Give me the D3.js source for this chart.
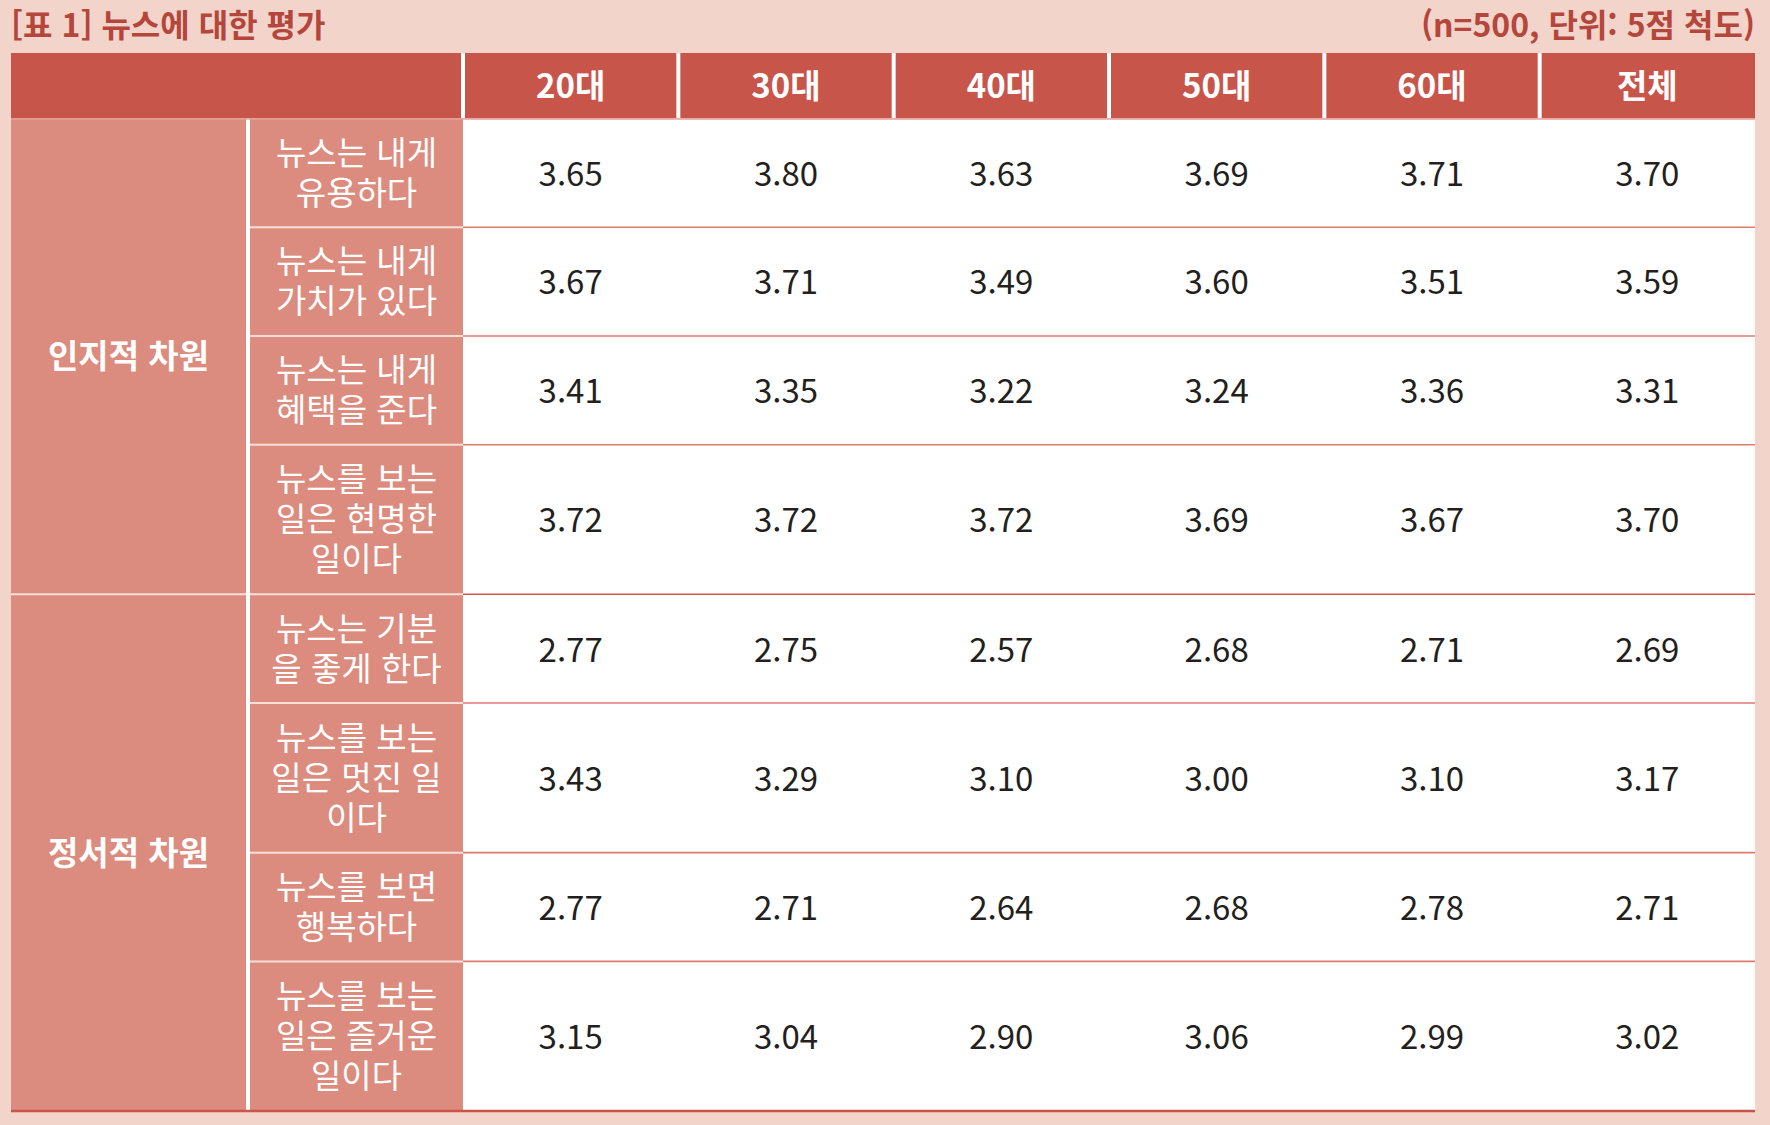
<!DOCTYPE html>
<html lang="ko">
<head>
<meta charset="utf-8">
<title>[표 1] 뉴스에 대한 평가</title>
<script src="https://cdn.jsdelivr.net/npm/d3@7"></script>
<style>
  html, body { margin: 0; padding: 0; background: #f2d4ca; }
  svg { display: block; font-family: "Noto Sans CJK KR", "Noto Sans", sans-serif; }
</style>
</head>
<body>
<svg id="chart"></svg>
<script>
/* Table 1: evaluation of news, by age group (5-point scale, n=500). */

const title = "[표 1] 뉴스에 대한 평가";
const note = "(n=500, 단위: 5점 척도)";

const ages = ["20대", "30대", "40대", "50대", "60대", "전체"];

const groups = ["인지적 차원", "정서적 차원"];
const groupOfItem = [0, 0, 0, 0, 1, 1, 1, 1];

const itemLabels = [
  ["뉴스는 내게", "유용하다"],
  ["뉴스는 내게", "가치가 있다"],
  ["뉴스는 내게", "혜택을 준다"],
  ["뉴스를 보는", "일은 현명한", "일이다"],
  ["뉴스는 기분", "을 좋게 한다"],
  ["뉴스를 보는", "일은 멋진 일", "이다"],
  ["뉴스를 보면", "행복하다"],
  ["뉴스를 보는", "일은 즐거운", "일이다"]
];

/* one array per age column, rows in item order */
const values20 = [3.65, 3.67, 3.41, 3.72, 2.77, 3.43, 2.77, 3.15];
const values30 = [3.80, 3.71, 3.35, 3.72, 2.75, 3.29, 2.71, 3.04];
const values40 = [3.63, 3.49, 3.22, 3.72, 2.57, 3.10, 2.64, 2.90];
const values50 = [3.69, 3.60, 3.24, 3.69, 2.68, 3.00, 2.68, 3.06];
const values60 = [3.71, 3.51, 3.36, 3.67, 2.71, 3.10, 2.78, 2.99];
const valuesAll = [3.70, 3.59, 3.31, 3.70, 2.69, 3.17, 2.71, 3.02];

const valuesByAge = [values20, values30, values40, values50, values60, valuesAll];

(function render() {
  const W = 1770, H = 1125;
  const left = 11, right = 1755;
  const groupRight = 246, itemRight = 463;
  const headTop = 53, headBottom = 118.5, bodyBottom = 1111;
  const FS = 33;

  const C = {
    header: "#c8554a",
    label: "#dc8c7e",
    title: "#b4463c",
    rule: "#df7a70",
    groupRule: "#d9574d",
    text: "#231f20"
  };

  const svg = d3.select("#chart").attr("width", W).attr("height", H)
    .attr("viewBox", [0, 0, W, H]);

  /* ---------- SCALES ---------- */

  const x = d3.scaleBand().domain(ages).range([itemRight, right]);

  // row heights follow the number of label lines
  const rowUnits = itemLabels.map(function (l) { return l.length * 41 + 27; });
  const rowStart = [0];
  rowUnits.forEach(function (u, i) { rowStart.push(rowStart[i] + u); });
  const y = d3.scaleLinear().domain([0, rowStart[rowStart.length - 1]])
    .range([headBottom, bodyBottom]);

  const rows = itemLabels.map(function (lines, i) {
    return {
      i: i,
      lines: lines,
      y0: y(rowStart[i]),
      y1: y(rowStart[i + 1]),
      group: groupOfItem[i]
    };
  });

  /* ---------- TITLE ---------- */

  svg.append("text")
    .attr("x", left).attr("y", 37)
    .attr("fill", C.title).attr("font-size", 32).attr("font-weight", 700)
    .text(title);

  svg.append("text")
    .attr("x", right).attr("y", 37)
    .attr("text-anchor", "end")
    .attr("fill", C.title).attr("font-size", 32).attr("font-weight", 700)
    .text(note);

  /* ---------- HEADER ---------- */

  svg.append("rect")
    .attr("x", left).attr("y", headTop)
    .attr("width", right - left).attr("height", headBottom - headTop)
    .attr("fill", C.header);

  svg.selectAll("line.head-sep")
    .data(ages)
    .enter().append("line")
    .attr("class", "head-sep")
    .attr("x1", function (d) { return x(d); })
    .attr("x2", function (d) { return x(d); })
    .attr("y1", headTop).attr("y2", headBottom)
    .attr("stroke", "#fff").attr("stroke-width", 4);

  svg.selectAll("text.head")
    .data(ages)
    .enter().append("text")
    .attr("class", "head")
    .attr("x", function (d) { return x(d) + x.bandwidth() / 2; })
    .attr("y", (headTop + headBottom) / 2)
    .attr("dy", "0.36em")
    .attr("text-anchor", "middle")
    .attr("fill", "#fff").attr("font-size", FS).attr("font-weight", 700)
    .text(function (d) { return d; });

  /* ---------- BODY BACKGROUNDS ---------- */

  svg.append("rect")
    .attr("x", itemRight).attr("y", headBottom)
    .attr("width", right - itemRight).attr("height", bodyBottom - headBottom)
    .attr("fill", "#fff");

  svg.append("rect")
    .attr("x", left).attr("y", headBottom)
    .attr("width", itemRight - left).attr("height", bodyBottom - headBottom)
    .attr("fill", C.label);

  /* ---------- ROW RULES ---------- */

  const inner = rows.slice(1);

  svg.selectAll("line.rule")
    .data(inner)
    .enter().append("line")
    .attr("x1", itemRight).attr("x2", right)
    .attr("y1", function (d) { return d.y0; })
    .attr("y2", function (d) { return d.y0; })
    .attr("stroke", function (d) { return d.group !== rows[d.i - 1].group ? C.groupRule : C.rule; })
    .attr("stroke-width", 1.6);

  // white rules between item labels
  svg.selectAll("line.item-rule")
    .data(inner)
    .enter().append("line")
    .attr("x1", groupRight)
    .attr("x2", itemRight)
    .attr("y1", function (d) { return d.y0; })
    .attr("y2", function (d) { return d.y0; })
    .attr("stroke", "#f7ded8").attr("stroke-width", 2);

  // white rule between the two groups in the group column
  const groupStarts = rows.filter(function (d, i) { return i > 0 && d.group !== rows[i - 1].group; });
  svg.selectAll("line.group-rule")
    .data(groupStarts)
    .enter().append("line")
    .attr("x1", left).attr("x2", groupRight)
    .attr("y1", function (d) { return d.y0; })
    .attr("y2", function (d) { return d.y0; })
    .attr("stroke", "#f7ded8").attr("stroke-width", 2);

  // vertical white rule between group and item columns
  svg.append("line")
    .attr("x1", groupRight + 2).attr("x2", groupRight + 2)
    .attr("y1", headBottom).attr("y2", bodyBottom)
    .attr("stroke", "#fff").attr("stroke-width", 4);

  // rule under header and bottom border
  svg.append("line")
    .attr("x1", left).attr("x2", right)
    .attr("y1", headBottom + 0.5).attr("y2", headBottom + 0.5)
    .attr("stroke", "#e6a197").attr("stroke-width", 1.5);

  svg.append("line")
    .attr("x1", left).attr("x2", right)
    .attr("y1", bodyBottom).attr("y2", bodyBottom)
    .attr("stroke", C.header).attr("stroke-width", 2.5);

  /* ---------- GROUP LABELS ---------- */

  svg.selectAll("text.group")
    .data(groups)
    .enter().append("text")
    .attr("class", "group")
    .attr("x", (left + groupRight) / 2)
    .attr("y", function (g, gi) {
      const r = rows.filter(function (d) { return d.group === gi; });
      return (r[0].y0 + r[r.length - 1].y1) / 2;
    })
    .attr("dy", "0.36em")
    .attr("text-anchor", "middle")
    .attr("fill", "#fff").attr("font-size", FS).attr("font-weight", 700)
    .text(function (d) { return d; });

  /* ---------- ITEM LABELS ---------- */

  const LINE = 40;
  const itemText = svg.selectAll("text.item")
    .data(rows)
    .enter().append("text")
    .attr("class", "item")
    .attr("text-anchor", "middle")
    .attr("fill", "#fff").attr("font-size", FS).attr("font-weight", 400);

  itemText.selectAll("tspan")
    .data(function (d) {
      const mid = (d.y0 + d.y1) / 2;
      return d.lines.map(function (t, k) {
        return { t: t, y: mid + (k - (d.lines.length - 1) / 2) * LINE };
      });
    })
    .enter().append("tspan")
    .attr("x", (groupRight + itemRight) / 2 + 2)
    .attr("y", function (d) { return d.y; })
    .attr("dy", "0.36em")
    .text(function (d) { return d.t; });

  /* ---------- VALUES ---------- */

  const cols = svg.selectAll("g.col")
    .data(valuesByAge)
    .enter().append("g")
    .attr("class", "col")
    .attr("transform", function (d, i) { return "translate(" + (x(ages[i]) + x.bandwidth() / 2) + ",0)"; });

  cols.selectAll("text")
    .data(function (d) { return d; })
    .enter().append("text")
    .attr("x", 0)
    .attr("y", function (v, i) { return (rows[i].y0 + rows[i].y1) / 2 + 1; })
    .attr("dy", "0.36em")
    .attr("text-anchor", "middle")
    .attr("fill", C.text).attr("font-size", FS).attr("font-weight", 400)
    .text(function (v) { return d3.format(".2f")(v); });
})();
</script>
</body>
</html>
